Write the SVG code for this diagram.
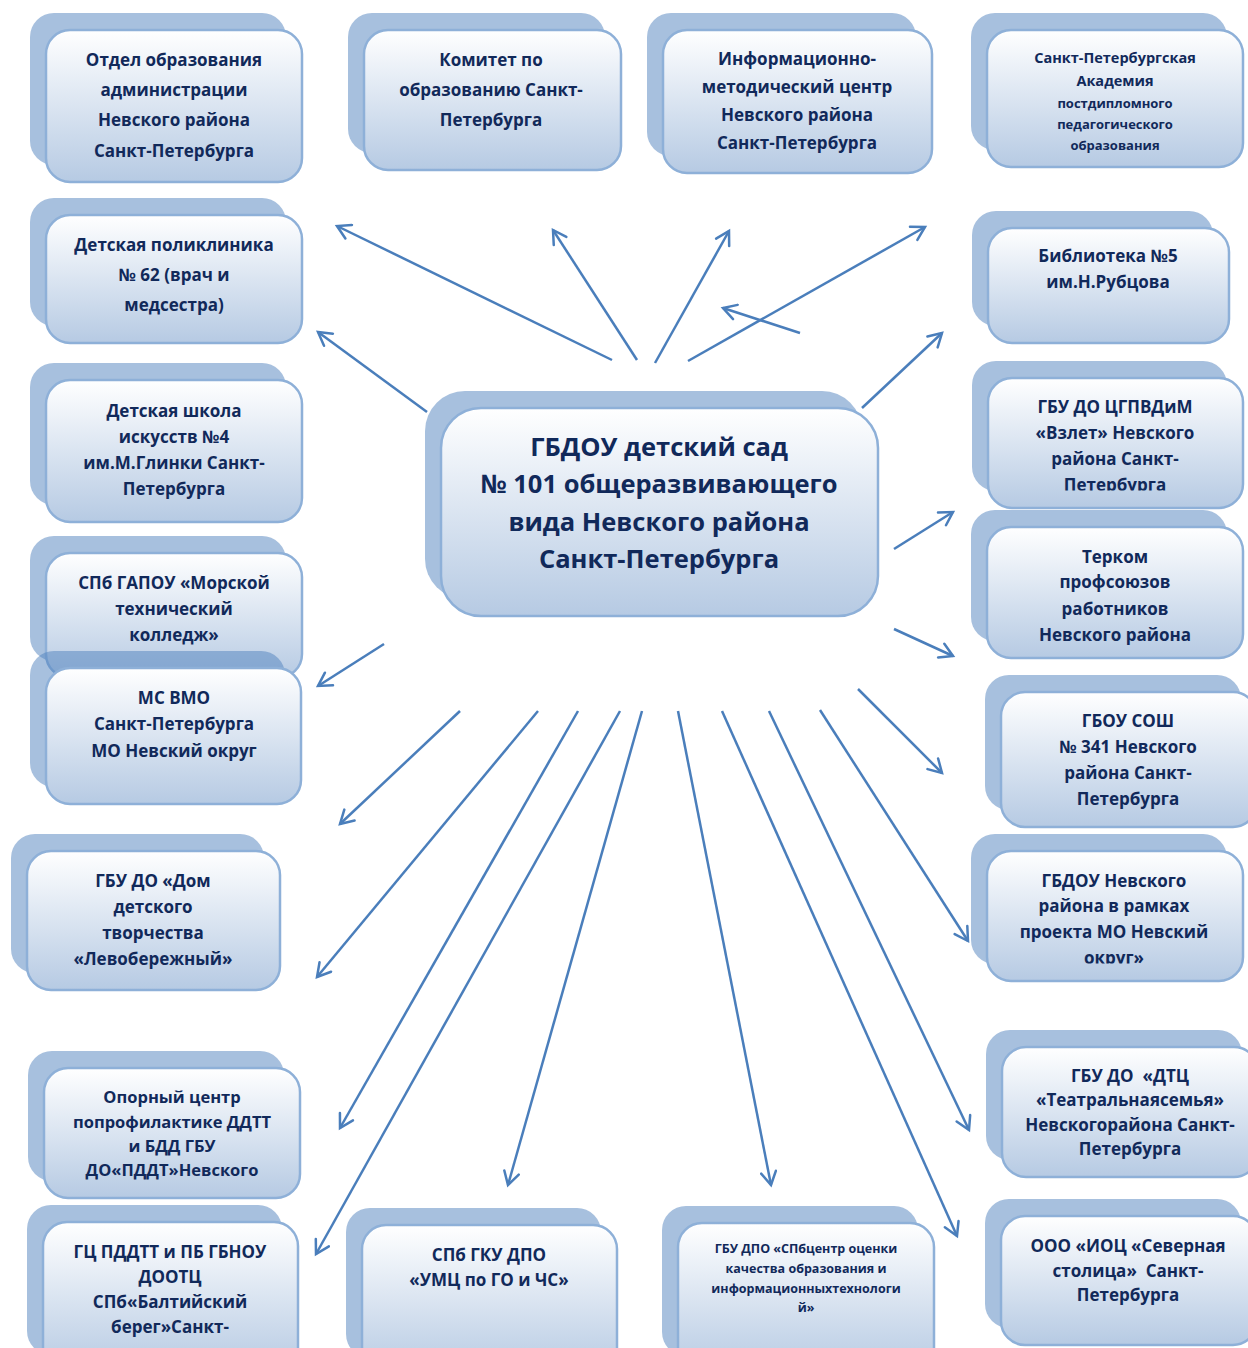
<svg xmlns="http://www.w3.org/2000/svg" width="1248" height="1348" viewBox="0 0 1248 1348">
<defs>
<linearGradient id="g" x1="0" y1="0" x2="0" y2="1">
<stop offset="0" stop-color="#ffffff"/>
<stop offset="1" stop-color="#b6cae3"/>
</linearGradient>
<marker id="a" markerUnits="userSpaceOnUse" markerWidth="18" markerHeight="18" viewBox="0 0 18 18" refX="15" refY="9" orient="auto">
<path d="M2,1.5 L15,9 L2,16.5" fill="none" stroke="#4a7ebb" stroke-width="2.5" stroke-linecap="round" stroke-linejoin="miter"/>
</marker>
<clipPath id="clip8"><rect x="980" y="370" width="268" height="120.5"/></clipPath>
<clipPath id="clip18"><rect x="980" y="845" width="268" height="118.5"/></clipPath>
<style>
.bk{fill:#4f81bd;fill-opacity:0.5}
.fr{fill:url(#g);stroke:#8eb0d8;stroke-width:2.5}
.t{font-family:"Open Sans","Noto Sans","DejaVu Sans",sans-serif;font-weight:700;fill:#11295a;text-anchor:middle;font-size:17px;white-space:pre}
.c{stroke:#4a7ebb;stroke-width:2.5;fill:none;marker-end:url(#a)}
</style>
</defs>
<rect width="1248" height="1348" fill="#ffffff"/>

<g id="n1"><rect class="bk" x="30" y="13" width="256" height="152" rx="24"/><rect class="fr" x="46" y="30" width="256" height="152" rx="24"/>
<text class="t"><tspan x="174" y="66">Отдел образования</tspan><tspan x="174" y="96">администрации</tspan><tspan x="174" y="126">Невского района</tspan><tspan x="174" y="157">Санкт-Петербурга</tspan></text></g>

<g id="n2"><rect class="bk" x="348" y="13" width="257" height="140" rx="24"/><rect class="fr" x="364" y="30" width="257" height="140" rx="24"/>
<text class="t"><tspan x="491" y="66">Комитет по</tspan><tspan x="491" y="96">образованию Санкт-</tspan><tspan x="491" y="126">Петербурга</tspan></text></g>

<g id="n3"><rect class="bk" x="647" y="13" width="269" height="143" rx="24"/><rect class="fr" x="663" y="30" width="269" height="143" rx="24"/>
<text class="t"><tspan x="797" y="65">Информационно-</tspan><tspan x="797" y="93">методический центр</tspan><tspan x="797" y="121">Невского района</tspan><tspan x="797" y="149">Санкт-Петербурга</tspan></text></g>

<g id="n4"><rect class="bk" x="971" y="13" width="256" height="137" rx="24"/><rect class="fr" x="987" y="30" width="256" height="137" rx="24"/>
<text class="t" style="font-size:14.5px"><tspan x="1115" y="63">Санкт-Петербургская</tspan><tspan x="1115" y="86">Академия</tspan></text>
<text class="t" style="font-size:13px"><tspan x="1115" y="108">постдипломного</tspan><tspan x="1115" y="129">педагогического</tspan><tspan x="1115" y="150">образования</tspan></text></g>

<g id="n5"><rect class="bk" x="30" y="198" width="256" height="128" rx="24"/><rect class="fr" x="46" y="215" width="256" height="128" rx="24"/>
<text class="t"><tspan x="174" y="251">Детская поликлиника</tspan><tspan x="174" y="281">№ 62 (врач и</tspan><tspan x="174" y="311">медсестра)</tspan></text></g>

<g id="n6"><rect class="bk" x="972" y="211" width="241" height="115" rx="24"/><rect class="fr" x="988" y="228" width="241" height="115" rx="24"/>
<text class="t"><tspan x="1108" y="262">Библиотека №5</tspan><tspan x="1108" y="288">им.Н.Рубцова</tspan></text></g>

<g id="n7"><rect class="bk" x="30" y="363" width="256" height="142" rx="24"/><rect class="fr" x="46" y="380" width="256" height="142" rx="24"/>
<text class="t"><tspan x="174" y="417">Детская школа</tspan><tspan x="174" y="443">искусств №4</tspan><tspan x="174" y="469">им.М.Глинки Санкт-</tspan><tspan x="174" y="495">Петербурга</tspan></text></g>

<g id="n8"><rect class="bk" x="972" y="361" width="255" height="130" rx="24"/><rect class="fr" x="988" y="378" width="255" height="130" rx="24"/>
<text class="t" clip-path="url(#clip8)"><tspan x="1115" y="413">ГБУ ДО ЦГПВДиМ</tspan><tspan x="1115" y="439">«Взлет» Невского</tspan><tspan x="1115" y="465">района Санкт-</tspan><tspan x="1115" y="491">Петербурга</tspan></text></g>

<g id="n9"><rect class="bk" x="971" y="510" width="256" height="131" rx="24"/><rect class="fr" x="987" y="527" width="256" height="131" rx="24"/>
<text class="t"><tspan x="1115" y="563">Терком</tspan><tspan x="1115" y="588">профсоюзов</tspan><tspan x="1115" y="615">работников</tspan><tspan x="1115" y="641">Невского района</tspan></text></g>

<g id="n10"><rect class="bk" x="30" y="536" width="256" height="125" rx="24"/><rect class="fr" x="46" y="553" width="256" height="125" rx="24"/>
<text class="t"><tspan x="174" y="589">СПб ГАПОУ «Морской</tspan><tspan x="174" y="615">технический</tspan><tspan x="174" y="641">колледж»</tspan></text></g>

<g id="n11"><rect class="bk" x="30" y="651" width="255" height="136" rx="24"/><rect class="fr" x="46" y="668" width="255" height="136" rx="24"/>
<text class="t"><tspan x="174" y="704">МС ВМО</tspan><tspan x="174" y="730">Санкт-Петербурга</tspan><tspan x="174" y="757">МО Невский округ</tspan></text></g>

<g id="n12"><rect class="bk" x="11" y="834" width="253" height="139" rx="24"/><rect class="fr" x="27" y="851" width="253" height="139" rx="24"/>
<text class="t"><tspan x="153" y="887">ГБУ ДО «Дом</tspan><tspan x="153" y="913">детского</tspan><tspan x="153" y="939">творчества</tspan><tspan x="153" y="965">«Левобережный»</tspan></text></g>

<g id="n13"><rect class="bk" x="28" y="1051" width="256" height="130" rx="24"/><rect class="fr" x="44" y="1068" width="256" height="130" rx="24"/>
<text class="t" style="font-size:16.5px"><tspan x="172" y="1103">Опорный центр</tspan><tspan x="172" y="1128">попрофилактике ДДТТ</tspan><tspan x="172" y="1152">и БДД ГБУ</tspan><tspan x="172" y="1176">ДО«ПДДТ»Невского</tspan></text></g>

<g id="n14"><rect class="bk" x="27" y="1205" width="255" height="150" rx="24"/><rect class="fr" x="43" y="1222" width="255" height="150" rx="24"/>
<text class="t"><tspan x="170" y="1258">ГЦ ПДДТТ и ПБ ГБНОУ</tspan><tspan x="170" y="1283">ДООТЦ</tspan><tspan x="170" y="1308">СПб«Балтийский</tspan><tspan x="170" y="1333">берег»Санкт-</tspan></text></g>

<g id="n15"><rect class="bk" x="346" y="1208" width="255" height="150" rx="24"/><rect class="fr" x="362" y="1225" width="255" height="150" rx="24"/>
<text class="t"><tspan x="489" y="1261">СПб ГКУ ДПО</tspan><tspan x="489" y="1286">«УМЦ по ГО и ЧС»</tspan></text></g>

<g id="n16"><rect class="bk" x="662" y="1206" width="256" height="150" rx="24"/><rect class="fr" x="678" y="1223" width="256" height="150" rx="24"/>
<text class="t" style="font-size:12.5px"><tspan x="806" y="1253">ГБУ ДПО «СПбцентр оценки</tspan><tspan x="806" y="1273">качества образования и</tspan><tspan x="806" y="1293">информационныхтехнологи</tspan><tspan x="806" y="1312">й»</tspan></text></g>

<g id="n17"><rect class="bk" x="985" y="675" width="256" height="135" rx="24"/><rect class="fr" x="1001" y="692" width="256" height="135" rx="24"/>
<text class="t"><tspan x="1128" y="727">ГБОУ СОШ</tspan><tspan x="1128" y="753">№ 341 Невского</tspan><tspan x="1128" y="779">района Санкт-</tspan><tspan x="1128" y="805">Петербурга</tspan></text></g>

<g id="n18"><rect class="bk" x="971" y="834" width="256" height="130" rx="24"/><rect class="fr" x="987" y="851" width="256" height="130" rx="24"/>
<text class="t" clip-path="url(#clip18)"><tspan x="1114" y="887">ГБДОУ Невского</tspan><tspan x="1114" y="912">района в рамках</tspan><tspan x="1114" y="938">проекта МО Невский</tspan><tspan x="1114" y="964">округ»</tspan></text></g>

<g id="n19"><rect class="bk" x="986" y="1030" width="256" height="130" rx="24"/><rect class="fr" x="1002" y="1047" width="256" height="130" rx="24"/>
<text class="t"><tspan x="1130" y="1082">ГБУ ДО  «ДТЦ</tspan><tspan x="1130" y="1106">«Театральнаясемья»</tspan><tspan x="1130" y="1131">Невскогорайона Санкт-</tspan><tspan x="1130" y="1155">Петербурга</tspan></text></g>

<g id="n20"><rect class="bk" x="985" y="1199" width="256" height="129" rx="24"/><rect class="fr" x="1001" y="1216" width="256" height="129" rx="24"/>
<text class="t"><tspan x="1128" y="1252">ООО «ИОЦ «Северная</tspan><tspan x="1128" y="1277">столица»  Санкт-</tspan><tspan x="1128" y="1301">Петербурга</tspan></text></g>

<g id="center"><rect class="bk" x="425" y="391" width="437" height="208" rx="40"/><rect class="fr" x="441" y="408" width="437" height="208" rx="40"/>
<text class="t" style="font-size:25.5px"><tspan x="659" y="456">ГБДОУ детский сад</tspan><tspan x="659" y="493">№ 101 общеразвивающего</tspan><tspan x="659" y="531">вида Невского района</tspan><tspan x="659" y="568">Санкт-Петербурга</tspan></text></g>

<g id="connectors">
<line class="c" x1="612" y1="360" x2="337" y2="226"/>
<line class="c" x1="637" y1="360" x2="553" y2="230"/>
<line class="c" x1="655" y1="363" x2="729" y2="231"/>
<line class="c" x1="688" y1="361" x2="925" y2="227"/>
<line class="c" x1="800" y1="333" x2="723" y2="308"/>
<line class="c" x1="427" y1="412" x2="318" y2="332"/>
<line class="c" x1="862" y1="408" x2="942" y2="333"/>
<line class="c" x1="894" y1="549" x2="953" y2="512"/>
<line class="c" x1="894" y1="629" x2="953" y2="656"/>
<line class="c" x1="858" y1="689" x2="942" y2="773"/>
<line class="c" x1="384" y1="644" x2="318" y2="686"/>
<line class="c" x1="460" y1="711" x2="340" y2="824"/>
<line class="c" x1="538" y1="711" x2="317" y2="977"/>
<line class="c" x1="578" y1="711" x2="340" y2="1128"/>
<line class="c" x1="620" y1="711" x2="316" y2="1254"/>
<line class="c" x1="642" y1="711" x2="508" y2="1185"/>
<line class="c" x1="678" y1="711" x2="771" y2="1185"/>
<line class="c" x1="722" y1="711" x2="957" y2="1236"/>
<line class="c" x1="769" y1="711" x2="969" y2="1130"/>
<line class="c" x1="820" y1="710" x2="968" y2="941"/>
</g>
</svg>
